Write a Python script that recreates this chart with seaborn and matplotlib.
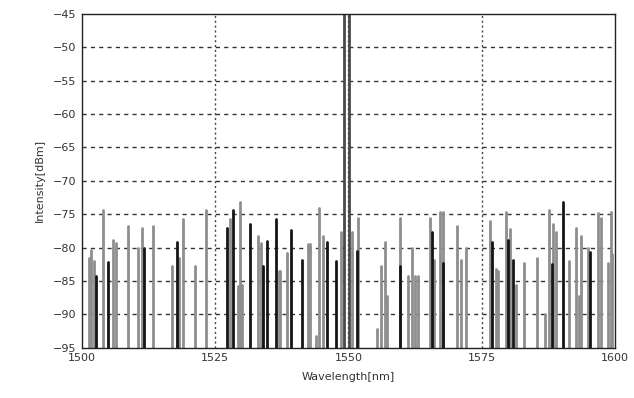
import numpy as np
import pandas as pd
import matplotlib
matplotlib.use("Agg")
import matplotlib.pyplot as plt
import seaborn as sns

# spectral lines: wavelength (nm), peak level (dBm), shade
black_wl = [1502.6, 1504.9, 1511.6, 1517.8, 1527.2, 1528.4, 1531.5, 1534.0, 1534.7, 1536.4,
            1539.2, 1541.3, 1546.0, 1547.6, 1551.6, 1559.7, 1565.7, 1567.8, 1576.9, 1580.0,
            1580.8, 1588.2, 1590.2, 1595.4]
black_db = [-84.3, -82.2, -80.0, -79.2, -77.0, -74.3, -76.5, -82.8, -79.0, -75.7,
            -77.3, -81.8, -79.2, -82.0, -80.5, -82.8, -77.7, -82.3, -79.2, -78.8,
            -81.8, -82.5, -73.2, -80.7]
gray_wl = [1501.3, 1501.8, 1502.2, 1503.9, 1505.8, 1506.5, 1508.6, 1510.5, 1511.2, 1513.3,
           1517.0, 1518.3, 1519.0, 1521.2, 1523.3, 1527.8, 1529.3, 1529.6, 1530.0, 1533.1,
           1533.6, 1536.9, 1537.2, 1538.4, 1542.5, 1542.8, 1544.0, 1544.5, 1545.3, 1548.6,
           1550.7, 1551.8, 1555.4, 1556.2, 1556.8, 1557.2, 1559.6, 1561.2, 1562.0, 1562.5,
           1563.0, 1565.4, 1566.0, 1567.1, 1567.7, 1570.3, 1571.2, 1572.1, 1576.6, 1577.7,
           1578.0, 1579.6, 1580.3, 1581.5, 1583.0, 1585.4, 1586.9, 1587.7, 1588.3, 1588.9,
           1591.4, 1592.7, 1593.2, 1593.6, 1594.9, 1596.8, 1597.4, 1598.6, 1599.3, 1599.5]
gray_db = [-81.5, -80.3, -82.0, -74.3, -78.8, -79.3, -76.8, -80.0, -77.0, -76.8,
           -82.8, -81.5, -75.7, -82.8, -74.3, -75.7, -85.8, -73.2, -85.6, -78.3,
           -79.3, -83.5, -83.5, -80.8, -79.5, -79.5, -93.3, -74.0, -78.3, -77.7,
           -77.7, -75.5, -92.2, -82.8, -79.2, -87.3, -75.5, -84.3, -80.0, -84.3,
           -84.3, -75.5, -81.8, -74.7, -74.7, -76.8, -81.8, -80.0, -76.0, -83.2,
           -83.5, -74.7, -77.2, -85.6, -82.3, -81.5, -90.0, -74.3, -76.5, -77.7,
           -82.0, -77.0, -87.3, -78.3, -80.0, -74.8, -75.5, -82.3, -74.7, -81.0]
peak_wl = [1549.2, 1550.1]
peak_db = [-44.0, -44.0]

x_ticks = [1500, 1525, 1550, 1575, 1600]
y_ticks = [-95, -90, -85, -80, -75, -70, -65, -60, -55, -50, -45]

floor = -95.0
rows = []
uid = 0
for wls, dbs, shade in [(gray_wl, gray_db, "gray"), (black_wl, black_db, "black"),
                        (peak_wl, peak_db, "peak")]:
    for w, d in zip(wls, dbs):
        rows.append({"wl": w, "db": floor, "id": uid, "shade": shade})
        rows.append({"wl": w, "db": d, "id": uid, "shade": shade})
        uid += 1
df = pd.DataFrame(rows)

sns.set_style("white")
plt.rcParams["font.family"] = ["DejaVu Sans"]

fig = plt.figure(figsize=(6.34, 3.98), dpi=100)
ax = fig.add_axes([0.129, 0.126, 0.841, 0.839])

sns.lineplot(data=df, x="wl", y="db", units="id", estimator=None, hue="shade",
             palette={"gray": "#8e8e8e", "black": "#151515", "peak": "#4a4a4a"},
             hue_order=["gray", "black", "peak"], sort=False, legend=False,
             linewidth=2.0, ax=ax)

ax.set_xlim(1500, 1600)
ax.set_ylim(-95, -45)
ax.set_xticks(x_ticks)
ax.set_yticks(y_ticks)
ax.tick_params(axis="both", labelsize=8, colors="#333333", length=0, pad=4)

for y in y_ticks[1:-1]:
    ax.axhline(y, color="#333333", linestyle=(0, (3, 3)), linewidth=1.0, zorder=0)
for x in x_ticks[1:-1]:
    ax.axvline(x, color="#444444", linestyle=(0, (1.5, 2)), linewidth=1.0, zorder=0)

for s in ax.spines.values():
    s.set_color("#222222")
    s.set_linewidth(1.0)

ax.set_xlabel("Wavelength[nm]", fontsize=8, color="#333333", labelpad=6)
ax.set_ylabel("Intensity[dBm]", fontsize=8, color="#333333", labelpad=6)

fig.savefig("out.png", dpi=100, facecolor="white")
